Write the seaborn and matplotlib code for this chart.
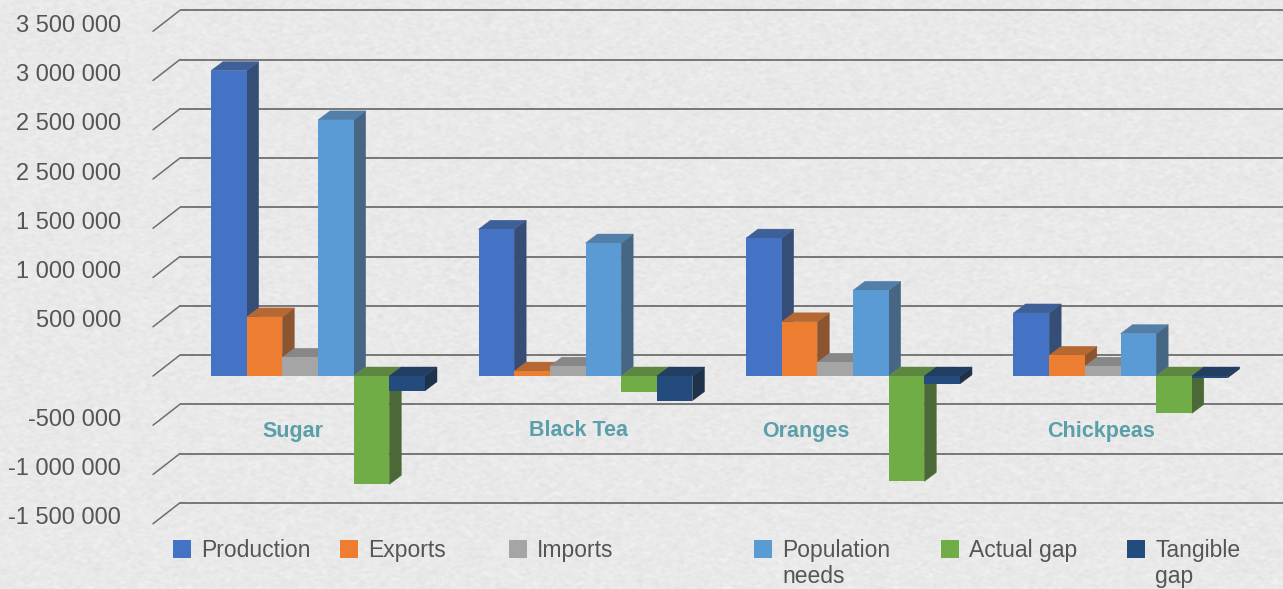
import numpy as np
import pandas as pd
import seaborn as sns
import matplotlib
matplotlib.use("Agg")
import matplotlib.pyplot as plt
import matplotlib.colors as mcolors
from matplotlib.patches import Polygon, Rectangle
from matplotlib.transforms import ScaledTranslation

# ---- data -------------------------------------------------------------
categories = ["Sugar", "Black Tea", "Oranges", "Chickpeas"]
series = ["Production", "Exports", "Imports", "Population\nneeds",
          "Actual gap", "Tangible\ngap"]

production = [3100000, 1490000, 1400000, 640000]
exports = [600000, 50000, 550000, 210000]
imports = [190000, 100000, 140000, 100000]
population_needs = [2600000, 1350000, 870000, 430000]
actual_gap = [-1100000, -160000, -1070000, -380000]
tangible_gap = [-150000, -250000, -80000, -20000]

tick_values = [3500000, 3000000, 2500000, 2000000, 1500000, 1000000,
               500000, 0, -500000, -1000000, -1500000]
tick_labels = ["3 500 000", "3 000 000", "2 500 000", "2 500 000",
               "1 500 000", "1 000 000", "500 000", "",
               "-500 000", "-1 000 000", "-1 500 000"]

colors = ["#4472C4", "#ED7D31", "#A5A5A5", "#5B9BD5", "#70AD47", "#234B7E"]

values = [production, exports, imports, population_needs, actual_gap,
          tangible_gap]
df = pd.DataFrame({
    "category": [c for _ in series for c in categories],
    "series": [s for s in series for _ in categories],
    "value": [v for vals in values for v in vals],
})

# ---- figure ---------------------------------------------------------------
W, H, DPI = 1283, 589, 100
sns.set_style("white")
plt.rcParams["font.family"] = ["Liberation Sans", "DejaVu Sans"]
text_color = "#555555"

fig = plt.figure(figsize=(W / DPI, H / DPI), dpi=DPI)
fig.patch.set_facecolor("#e9e9e9")

# paper-like background grain
rng = np.random.default_rng(11)
grain = rng.normal(size=(H, W))
k = np.ones(5) / 5
grain = np.apply_along_axis(lambda r: np.convolve(r, k, mode="same"), 1, grain)
grain = np.apply_along_axis(lambda c: np.convolve(c, np.ones(3) / 3, mode="same"), 0, grain)
bg = np.clip(0.915 + 0.035 * grain, 0, 1)
fig.figimage(np.dstack([bg, bg, bg]), xo=0, yo=0, zorder=-10)

ax_w_px, ax_h_px = 1130, 530
ax = fig.add_axes([153 / W, (H - ax_h_px) / H, ax_w_px / W, ax_h_px / H])
ax.set_facecolor("none")
ax.set_zorder(1)

sns.barplot(data=df, x="category", y="value", hue="series",
            order=categories, hue_order=series, palette=colors,
            saturation=1, width=0.8, errorbar=None, legend=False,
            edgecolor="none", linewidth=0, ax=ax, zorder=3)

px_per_unit_y = 98.5 / 1e6
zero_px = 376.0
ylim = ((zero_px - ax_h_px) / px_per_unit_y, zero_px / px_per_unit_y)
xlim = ((153 - 318) / 267.5, (1283 - 318) / 267.5)
ax.set_xlim(*xlim)
ax.set_ylim(*ylim)

sx = (xlim[1] - xlim[0]) / ax_w_px   # data units per pixel
sy = (ylim[1] - ylim[0]) / ax_h_px

# back wall gridlines with the diagonal depth ticks on the left
wall_dx, wall_dy = 27 * sx, 21 * sy
for v in tick_values:
    ax.plot([xlim[0] + wall_dx, xlim[1] + wall_dx], [v + wall_dy] * 2,
            color="#6e6e6e", lw=1.3, zorder=1, solid_capstyle="butt")
    ax.plot([xlim[0], xlim[0] + wall_dx], [v, v + wall_dy],
            color="#6e6e6e", lw=1.1, zorder=1, clip_on=False)

# 3D depth faces for each bar
bar_dx, bar_dy = 12 * sx, 9 * sy
bars = sorted([p for p in ax.patches if isinstance(p, Rectangle)],
              key=lambda p: p.get_x())
for p in bars:
    x0, w = p.get_x(), p.get_width()
    y0, h = p.get_y(), p.get_height()
    lo, hi = min(y0, y0 + h), max(y0, y0 + h)
    base = np.array(mcolors.to_rgb(p.get_facecolor()))
    grey = base.mean()
    side_c = (0.75 * base + 0.25 * grey) * 0.66
    top_c = (0.85 * base + 0.15 * grey) * 0.82
    side = Polygon([(x0 + w, lo), (x0 + w + bar_dx, lo + bar_dy),
                    (x0 + w + bar_dx, hi + bar_dy), (x0 + w, hi)],
                   closed=True, facecolor=side_c, edgecolor=side_c,
                   lw=0.3, zorder=2)
    top = Polygon([(x0, hi), (x0 + bar_dx, hi + bar_dy),
                   (x0 + w + bar_dx, hi + bar_dy), (x0 + w, hi)],
                  closed=True, facecolor=top_c, edgecolor=top_c,
                  lw=0.3, zorder=2)
    ax.add_patch(side)
    ax.add_patch(top)

# axes cosmetics
for s in ax.spines.values():
    s.set_visible(False)
ax.set_xticks([])
ax.set_xlabel("")
ax.set_ylabel("")
ax.set_yticks(tick_values, tick_labels)
ax.tick_params(axis="y", length=0, pad=23, labelsize=17, labelcolor=text_color)
shift = ScaledTranslation(0, 8 / DPI, fig.dpi_scale_trans)
for lab in ax.get_yticklabels():
    lab.set_transform(lab.get_transform() + shift)

# category names under the zero line
label_offsets = [-0.093, -0.028, -0.176, -0.073]
for i, (cat, off) in enumerate(zip(categories, label_offsets)):
    ax.text(i + off, (zero_px - 436.5) / px_per_unit_y, cat,
            ha="center", va="baseline", fontsize=15.5, fontweight="bold",
            color="#5a9fa9", zorder=4)

# legend row
legend_x = [173, 340, 509, 754, 941, 1127]
for name, col, lx in zip(series, colors, legend_x):
    fig.patches.append(Rectangle((lx / W, 1 - 558 / H), 18 / W, 18 / H,
                                 transform=fig.transFigure,
                                 facecolor=col, edgecolor="none"))
    for j, line in enumerate(name.split("\n")):
        fig.text((lx + 28) / W, 1 - (557 + 26 * j) / H, line,
                 ha="left", va="baseline", fontsize=16.5, color=text_color)

fig.savefig("out.png", dpi=DPI)
